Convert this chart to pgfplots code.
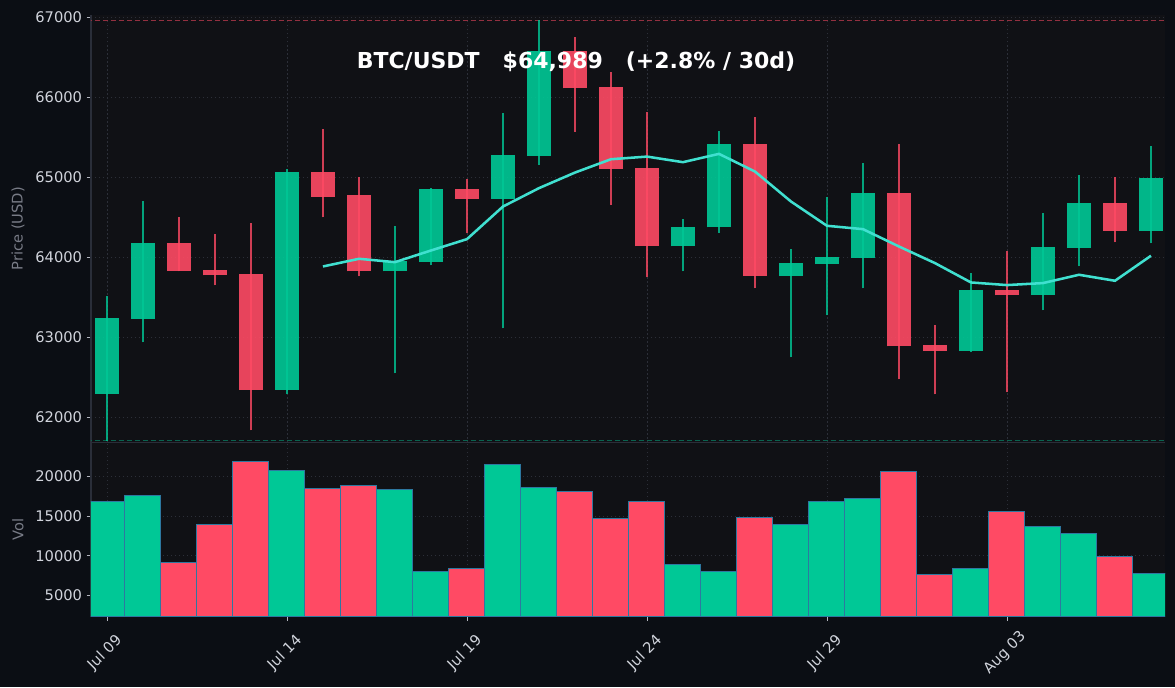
\documentclass[border=0pt]{standalone}
\usepackage{pgfplots}
\pgfplotsset{compat=1.18}
\usepackage{pgfplotstable}
\usepackage{fontspec}
\setmainfont{DejaVu Sans}

\definecolor{figbg}{HTML}{0B0E14}
\definecolor{axbg}{HTML}{101115}
\definecolor{gridc}{HTML}{2C2F38}
\definecolor{spinec}{HTML}{2A2E39}
\definecolor{tickc}{HTML}{B2B5BE}
\definecolor{labc}{HTML}{D1D4DC}
\definecolor{ylabc}{HTML}{787B86}
\definecolor{upc}{HTML}{00C896}
\definecolor{dnc}{HTML}{FF4A64}
\definecolor{mac}{HTML}{40E0D0}
\definecolor{voledge}{HTML}{2D78A0}

% day index, OHLC and volume
\pgfplotstableread{
i open high low close vol
0 62288 63508 61704 63238 16890
1 63225 64704 62933 64175 17650
5 62338 65100 62283 65063 20670
8 63821 64392 62546 63954 18280
9 63938 64862 63896 64850 8070
11 64725 65804 63108 65275 21430
12 65263 66962 65158 66575 18650
16 64133 64479 63821 64383 8950
17 64371 65579 64308 65413 8070
19 63763 64104 62746 63925 13990
20 63913 64754 63271 64000 16890
21 63988 65179 63608 64800 17270
24 62825 63800 62813 63588 8445
26 63525 64554 63333 64125 13740
27 64113 65029 63883 64675 12860
29 64329 65396 64171 64989 7815
}\up
\pgfplotstableread{
i open high low close vol
2 64175 64504 63820 63825 9160
3 63838 64292 63646 63771 13950
4 63788 64429 61833 62338 21800
6 65063 65604 64496 64758 18490
7 64775 65004 63758 63821 18900
10 64850 64979 64296 64725 8445
13 66575 66754 65571 66113 18100
14 66125 66317 64658 65100 14700
15 65113 65813 63746 64133 16890
18 65413 65754 63608 63763 14870
22 64800 65417 62471 62883 20550
23 62900 63154 62283 62825 7650
25 63588 64079 62308 63521 15630
28 64675 65000 64183 64329 9960
}\dn

\pgfplotsset{
  dark/.style={
    scale only axis, width=805.5pt,
    xmin=-0.444, xmax=29.39,
    axis background/.style={fill=axbg},
    axis lines*=left,
    axis line style={spinec, line width=0.8pt, -},
    grid=major,
    major grid style={gridc, line width=0.6pt, dash pattern=on 0.8pt off 2.2pt},
    tick align=outside, major tick length=3.2pt,
    tick style={tickc, line width=0.6pt},
    xtick={0,5,10,15,20,25},
    ticklabel style={font=\fontsize{11}{13}\selectfont, text=labc},
    ylabel style={font=\fontsize{11}{13}\selectfont, text=ylabc,
      at={(axis description cs:-0.068,0.5)}, anchor=center, rotate=0},
    scaled y ticks=false,
    /pgf/number format/assume math mode=true,
    /pgf/number format/set thousands separator={},
    clip=true,
  },
  wick/.style={draw=none, mark=none,
    error bars/.cd, y dir=plus, y explicit, error mark=none,
    error bar style={draw=#1, draw opacity=0.8, line width=1pt}},
  body/.style={draw=none, mark=none,
    error bars/.cd, y dir=plus, y explicit, error mark=none,
    error bar style={draw=#1, draw opacity=0.9, line width=18.4pt}},
}

\begin{document}
\begin{tikzpicture}
\fill[figbg] (0,0) rectangle (881.25pt,515.25pt);

% price panel
\begin{axis}[dark,
  at={(68.25pt,183.375pt)}, anchor=south west,
  height=320.625pt,
  ymin=61680, ymax=67030,
  ytick={62000,63000,64000,65000,66000,67000},
  xticklabels={}, xtick style={draw=none},
  ylabel={Price (USD)},
]
\addplot[draw=dnc!55!axbg, line width=0.8pt, dash pattern=on 4pt off 2pt]
  coordinates {(-1,66962) (30,66962)};
\addplot[draw=upc!45!axbg, line width=0.8pt, dash pattern=on 4pt off 2pt]
  coordinates {(-1,61704) (30,61704)};
\addplot[wick=upc] table[x=i, y=low, y error plus expr=\thisrow{high}-\thisrow{low}] {\up};
\addplot[wick=dnc] table[x=i, y=low, y error plus expr=\thisrow{high}-\thisrow{low}] {\dn};
\addplot[body=upc] table[x=i, y=open, y error plus expr=\thisrow{close}-\thisrow{open}] {\up};
\addplot[body=dnc] table[x=i, y=close, y error plus expr=\thisrow{open}-\thisrow{close}] {\dn};
% 7-day moving average
\addplot[mac, line width=1.9pt, mark=none] coordinates {
(6,63883) (7,63979) (8,63937) (9,64083) (10,64225) (11,64633) (12,64863)
(13,65058) (14,65225) (15,65258) (16,65188) (17,65292) (18,65071) (19,64696)
(20,64392) (21,64350) (22,64133) (23,63925) (24,63683) (25,63650) (26,63675)
(27,63779) (28,63704) (29,64017)};
\end{axis}

% volume panel
\begin{axis}[dark,
  at={(68.25pt,52.725pt)}, anchor=south west,
  height=130.65pt,
  ymin=2350, ymax=24250,
  ytick={5000,10000,15000,20000},
  xticklabels={Jul 09,Jul 14,Jul 19,Jul 24,Jul 29,Aug 03},
  xticklabel style={xshift=-1.5pt, yshift=-24pt, rotate=45, anchor=center},
  ylabel={Vol},
  ybar, bar width=1,
]
\addplot[fill=upc, draw=voledge, line width=0.75pt, bar shift=0pt] table[x=i, y=vol] {\up};
\addplot[fill=dnc, draw=voledge, line width=0.75pt, bar shift=0pt] table[x=i, y=vol] {\dn};
\end{axis}

\node[text=white, font=\fontsize{16.5}{19}\selectfont\bfseries] at (432pt,468.75pt)
  {BTC/USDT\ \ \ \$64,989\ \ \ (+2.8\%\ /\ 30d)};

\pgfresetboundingbox
\path[use as bounding box] (0,0) rectangle (881.25pt,515.25pt);
\end{tikzpicture}
\end{document}
